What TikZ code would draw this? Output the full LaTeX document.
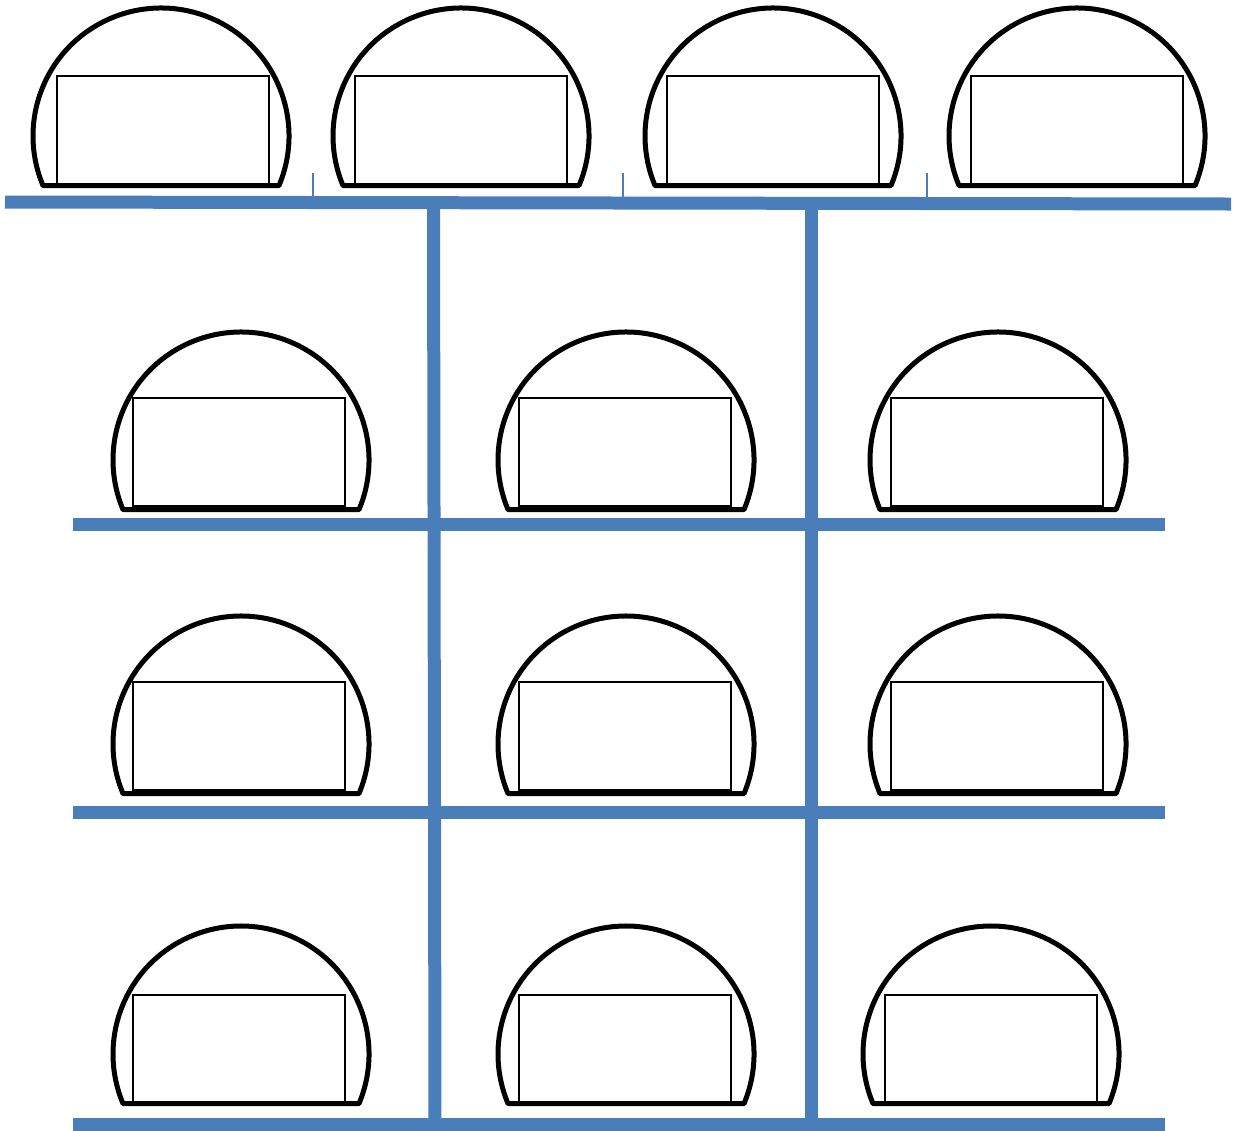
\documentclass[tikz,border=0pt]{standalone}
\usepackage{xcolor}
\definecolor{pipe-blue}{HTML}{4A7EBB}

\begin{document}
\begin{tikzpicture}[x=0.02cm, y=-0.02cm,
        tunnel/.style={draw=black, line width=0.1cm, line join=round},
        bay/.style={draw=black, line width=0.036cm},
        pipe/.style={draw=pipe-blue, line width=0.26cm},
        tap/.style={draw=pipe-blue, line width=0.03cm}]
      \useasboundingbox (0,0) rectangle (1236,1130);
      % main lines
      \coordinate (TL) at (5,202);
      \coordinate (TR) at (1231,204);
      \coordinate (V1top) at (433.5,203);
      \coordinate (V1bot) at (435,1124);
      \coordinate (V2top) at (811.5,203);
      \coordinate (V2bot) at (811.5,1124);
      \draw[pipe] (V1top) -- (V1bot);
      \draw[pipe] (V2top) -- (V2bot);
      \draw[pipe] (TL) -- (TR);
      \draw[pipe] (73,524) -- (1165,524);
      \draw[pipe] (73,812) -- (1165,812);
      \draw[pipe] (73,1124) -- (1165,1124);
      \draw[tap] (313,173) -- (313,198);
      \draw[tap] (623,173) -- (623,198);
      \draw[tap] (927,173) -- (927,198);
      % top row
      \draw[tunnel] (161,136) ++(22.8:128) arc[start angle=22.8, end angle=-202.8, radius=128] -- cycle;
      \draw[bay] (57,76) rectangle (269,184);
      \draw[tunnel] (461,136) ++(22.8:128) arc[start angle=22.8, end angle=-202.8, radius=128] -- cycle;
      \draw[bay] (355,76) rectangle (567,184);
      \draw[tunnel] (773,136) ++(22.8:128) arc[start angle=22.8, end angle=-202.8, radius=128] -- cycle;
      \draw[bay] (667,76) rectangle (879,184);
      \draw[tunnel] (1077,136) ++(22.8:128) arc[start angle=22.8, end angle=-202.8, radius=128] -- cycle;
      \draw[bay] (971,76) rectangle (1183,184);
      % second row
      \draw[tunnel] (241,460) ++(22.8:128) arc[start angle=22.8, end angle=-202.8, radius=128] -- cycle;
      \draw[bay] (133,398) rectangle (345,506);
      \draw[tunnel] (626,460) ++(22.8:128) arc[start angle=22.8, end angle=-202.8, radius=128] -- cycle;
      \draw[bay] (519,398) rectangle (731,506);
      \draw[tunnel] (998,460) ++(22.8:128) arc[start angle=22.8, end angle=-202.8, radius=128] -- cycle;
      \draw[bay] (891,398) rectangle (1103,506);
      % third row
      \draw[tunnel] (241,744) ++(22.8:128) arc[start angle=22.8, end angle=-202.8, radius=128] -- cycle;
      \draw[bay] (133,682) rectangle (345,790);
      \draw[tunnel] (626,744) ++(22.8:128) arc[start angle=22.8, end angle=-202.8, radius=128] -- cycle;
      \draw[bay] (519,682) rectangle (731,790);
      \draw[tunnel] (998,744) ++(22.8:128) arc[start angle=22.8, end angle=-202.8, radius=128] -- cycle;
      \draw[bay] (891,682) rectangle (1103,790);
      % bottom row
      \draw[tunnel] (241,1054) ++(22.8:128) arc[start angle=22.8, end angle=-202.8, radius=128] -- cycle;
      \draw[bay] (133,995) rectangle (345,1102);
      \draw[tunnel] (626,1054) ++(22.8:128) arc[start angle=22.8, end angle=-202.8, radius=128] -- cycle;
      \draw[bay] (519,995) rectangle (731,1102);
      \draw[tunnel] (991,1054) ++(22.8:128) arc[start angle=22.8, end angle=-202.8, radius=128] -- cycle;
      \draw[bay] (885,995) rectangle (1097,1102);
    \end{tikzpicture}
\end{document}
